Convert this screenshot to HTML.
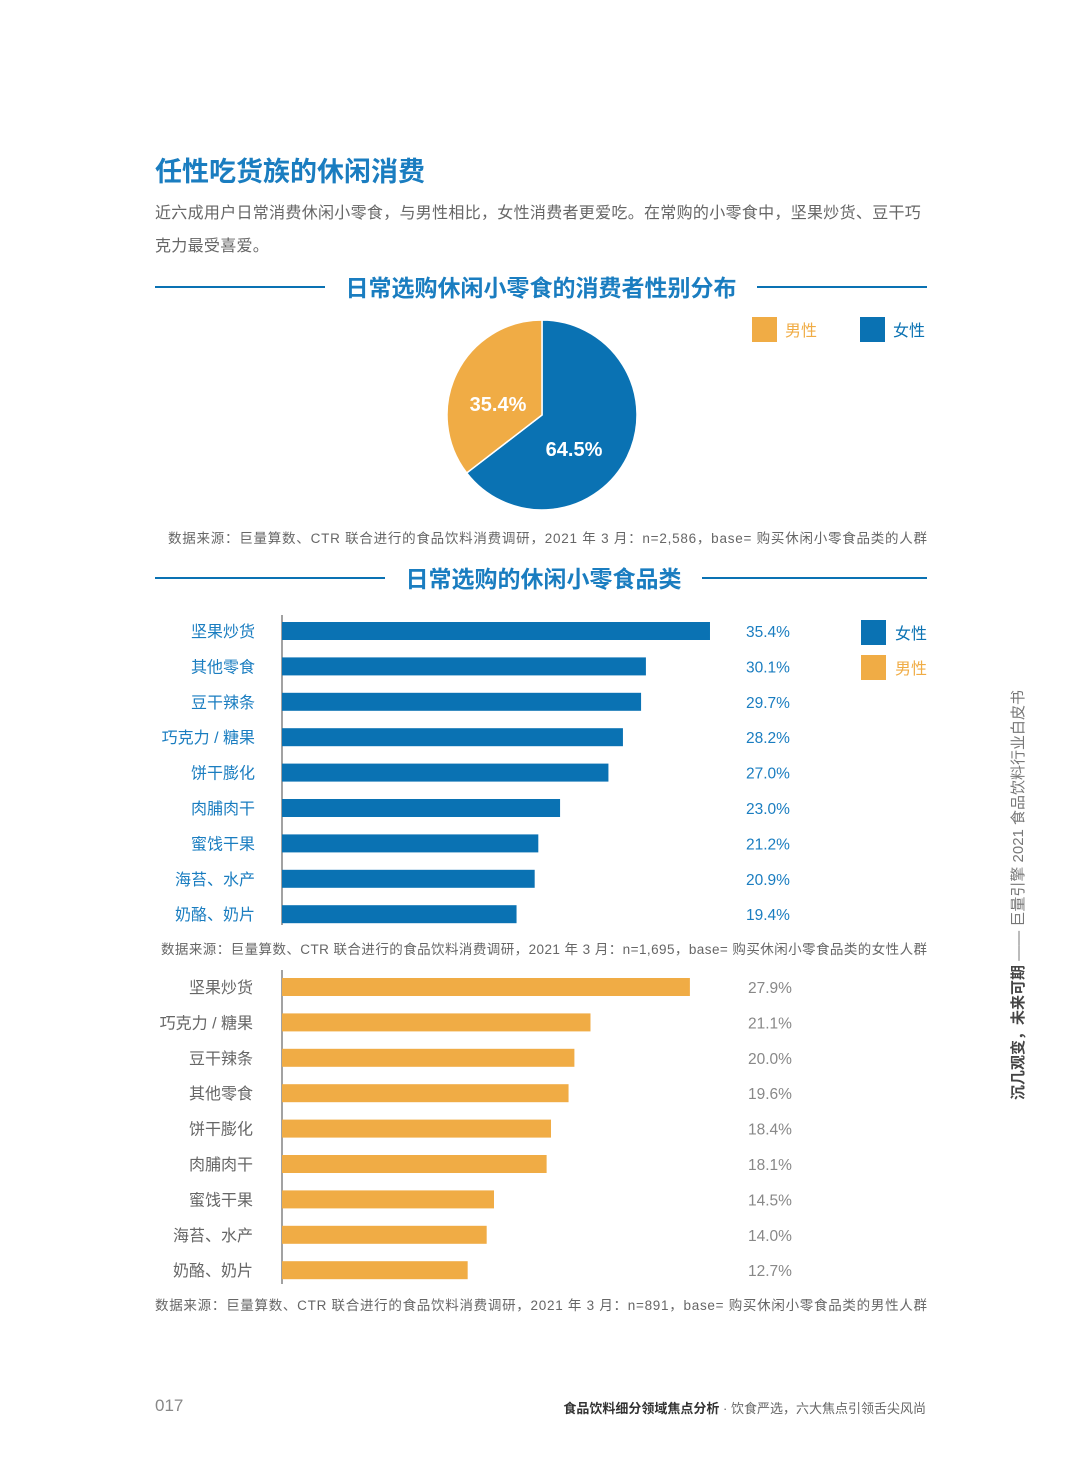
<!DOCTYPE html>
<html><head><meta charset="utf-8"><style>
body{margin:0;background:#fff;}
#page{position:relative;width:1080px;height:1466px;overflow:hidden;font-family:"Liberation Sans","Noto Sans CJK SC",sans-serif;}
.abs{position:absolute;white-space:nowrap;}
</style></head><body>
<div id="page">
<div class="abs" style="left:155px;top:150px;font-size:27px;font-weight:bold;color:#1a7dc0;">任性吃货族的休闲消费</div>
<div class="abs" style="left:155px;top:197px;font-size:16px;letter-spacing:0.3px;color:#666;line-height:33px;white-space:normal;width:776px;">近六成用户日常消费休闲小零食，与男性相比，女性消费者更爱吃。在常购的小零食中，坚果炒货、豆干巧克力最受喜爱。</div>
<svg class="abs" style="left:0;top:0" width="1080" height="1466">
<g id="g"></g>
</svg>
<div class="abs" style="left:1007px;top:1100px;transform-origin:0 0;transform:rotate(-90deg);font-size:15px;color:#777;"><b style="color:#444">沉几观变，未来可期</b> —— 巨量引擎 2021 食品饮料行业白皮书</div>
<div class="abs" style="left:155px;top:1396px;font-size:17px;color:#888;">017</div>
<div class="abs" style="right:154px;top:1398px;font-size:13px;color:#666;"><b style="color:#333">食品饮料细分领域焦点分析</b> · 饮食严选，六大焦点引领舌尖风尚</div>
</div>
<script>
const pieLabels=['男性','女性'];
const pieValues=[35.4,64.5];
const femCats=['坚果炒货','其他零食','豆干辣条','巧克力 / 糖果','饼干膨化','肉脯肉干','蜜饯干果','海苔、水产','奶酪、奶片'];
const femVals=[35.4,30.1,29.7,28.2,27.0,23.0,21.2,20.9,19.4];
const maleCats=['坚果炒货','巧克力 / 糖果','豆干辣条','其他零食','饼干膨化','肉脯肉干','蜜饯干果','海苔、水产','奶酪、奶片'];
const maleVals=[27.9,21.1,20.0,19.6,18.4,18.1,14.5,14.0,12.7];
const BLUE='#0a72b3',ORANGE='#f0ac45';
const g=document.getElementById('g');const NS='http://www.w3.org/2000/svg';
function mk(t,a,txt){const e=document.createElementNS(NS,t);for(const k in a)e.setAttribute(k,a[k]);if(txt!=null)e.textContent=txt;g.appendChild(e);return e;}
function heading(y,text,x1,x2,x3,x4,name){
 let l=mk('line',{x1:x1,y1:y,x2:x2,y2:y,stroke:BLUE,'stroke-width':2});
 
 l=mk('line',{x1:x3,y1:y,x2:x4,y2:y,stroke:BLUE,'stroke-width':2});
 
 const t=mk('text',{x:(x2+x3)/2,y:y+9,'text-anchor':'middle','font-size':23,'font-weight':'bold',fill:'#1a7dc0'},text);
 
}
heading(287,'日常选购休闲小零食的消费者性别分布',155,325,757,927,'pie-title');
heading(578,'日常选购的休闲小零食品类',155,385,702,927,'bar-title');
const cx=542,cy=415,r=95;const tot=pieValues[0]+pieValues[1];
function pt(f){const a=f*2*Math.PI;return [cx+r*Math.sin(a),cy-r*Math.cos(a)];}
let fe=pieValues[1]/tot;let p1=pt(fe);
let s=mk('path',{d:`M${cx},${cy}L${cx},${cy-r}A${r},${r} 0 ${fe>0.5?1:0} 1 ${p1[0]},${p1[1]}Z`,fill:BLUE,stroke:'#fff','stroke-width':1.5});

s=mk('path',{d:`M${cx},${cy}L${p1[0]},${p1[1]}A${r},${r} 0 ${fe<0.5?1:0} 1 ${cx},${cy-r}Z`,fill:ORANGE,stroke:'#fff','stroke-width':1.5});

let t=mk('text',{x:498,y:411,'text-anchor':'middle','font-size':20,'font-weight':'bold',fill:'#fff'},pieValues[0].toFixed(1)+'%');

t=mk('text',{x:574,y:456,'text-anchor':'middle','font-size':20,'font-weight':'bold',fill:'#fff'},pieValues[1].toFixed(1)+'%');

[[752,ORANGE,pieLabels[0]],[860,BLUE,pieLabels[1]]].forEach((d,i)=>{
 const rc=mk('rect',{x:d[0],y:317,width:25,height:25,fill:d[1]});
 
 const tx=mk('text',{x:d[0]+33,y:336,'font-size':16,fill:d[1]},d[2]);
 
});
function src(x,y,w,txt,name){const e=mk('text',{x:x,y:y,'font-size':13.5,fill:'#666',textLength:w,lengthAdjust:'spacing'},txt);}
src(168,543,759,'数据来源：巨量算数、CTR 联合进行的食品饮料消费调研，2021 年 3 月：n=2,586，base= 购买休闲小零食品类的人群','pie-source');
function bars(cats,vals,y0,scale,color,labColor,valColor,labX,valX,axTop,axBot,prefix){
 const ax=mk('line',{x1:282,y1:axTop,x2:282,y2:axBot,stroke:'#444','stroke-width':1});
 
 cats.forEach((c,i)=>{
  const y=y0+i*35.4;
  const b=mk('rect',{x:282,y:y-9,width:vals[i]*scale,height:18,fill:color});
  
  const l=mk('text',{x:labX,y:y+6,'text-anchor':'end','font-size':16,fill:labColor},c);
  
  const v=mk('text',{x:valX,y:y+6,'font-size':15.5,fill:valColor},vals[i].toFixed(1)+'%');
  
 });
}
bars(femCats,femVals,631,12.09,BLUE,'#1a7dc0','#1a7dc0',255,746,615,925,'female');
bars(maleCats,maleVals,987,14.62,ORANGE,'#666','#888',253,748,970,1284,'male');
[[620,BLUE,'女性'],[655,ORANGE,'男性']].forEach(d=>{
 const rc=mk('rect',{x:861,y:d[0],width:25,height:25,fill:d[1]});
 
 const tx=mk('text',{x:895,y:d[0]+19,'font-size':16,fill:d[1]},d[2]);
 
});
src(161,954,766,'数据来源：巨量算数、CTR 联合进行的食品饮料消费调研，2021 年 3 月：n=1,695，base= 购买休闲小零食品类的女性人群','female-source');
src(155,1310,772,'数据来源：巨量算数、CTR 联合进行的食品饮料消费调研，2021 年 3 月：n=891，base= 购买休闲小零食品类的男性人群','male-source');
</script>
</body></html>
